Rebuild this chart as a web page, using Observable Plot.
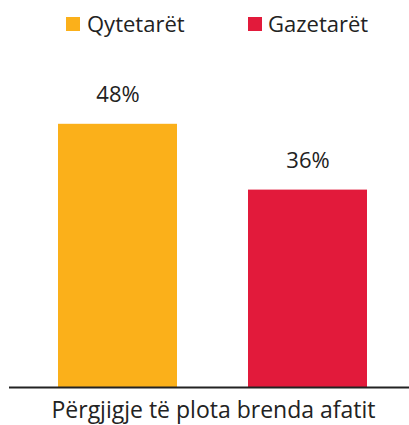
<!DOCTYPE html>
<html>
<head>
<meta charset="utf-8">
<script src="https://cdn.jsdelivr.net/npm/d3@7"></script>
<script src="https://cdn.jsdelivr.net/npm/@observablehq/plot@0.6"></script>
<style>
  html, body { margin: 0; padding: 0; background: #fff; }
  body { width: 409px; height: 425px; overflow: hidden; font-family: "Open Sans", sans-serif; color: #222; }
  #legend { position: relative; height: 48px; }
  .item { position: absolute; top: 12px; font-size: 22px; line-height: 22px; white-space: nowrap; }
  .sw { position: absolute; top: 17px; width: 14px; height: 14px; }
  #chart svg { display: block; }
  #caption { text-align: center; font-size: 23px; line-height: 23px; margin-top: 8px; padding-left: 18px; white-space: nowrap; }
</style>
</head>
<body>
<div id="legend"></div>
<div id="chart"></div>
<div id="caption"></div>
<script>
const categories = ["Qytetarët", "Gazetarët"];
const values = [48, 36];
const valueLabels = ["48%", "36%"];
const colors = ["#FBB01A", "#E21A3B"];
const axisLabel = "Përgjigje të plota brenda afatit";

const data = categories.map((c, i) => ({cat: c, value: values[i], label: valueLabels[i]}));

// legend
const legend = document.getElementById("legend");
const legendPos = [[66, 87], [248, 268]];
categories.forEach((c, i) => {
  const sw = document.createElement("div");
  sw.className = "sw";
  sw.style.left = legendPos[i][0] + "px";
  sw.style.background = colors[i];
  legend.appendChild(sw);
  const t = document.createElement("div");
  t.className = "item";
  t.style.left = legendPos[i][1] + "px";
  t.textContent = c;
  legend.appendChild(t);
});

const chart = Plot.plot({
  width: 409,
  height: 342,
  marginLeft: 9,
  marginRight: 0,
  marginTop: 10,
  marginBottom: 3,
  style: {fontFamily: "Open Sans, sans-serif", background: "white"},
  x: {domain: categories, paddingInner: 0.374, paddingOuter: 0.2395, align: 0.538, axis: null},
  y: {domain: [0, 60], axis: null},
  color: {domain: categories, range: colors},
  marks: [
    Plot.barY(data, {x: "cat", y: "value", fill: "cat"}),
    Plot.text(data, {x: "cat", y: "value", text: "label", lineAnchor: "bottom", dy: -22, fontSize: 22, fill: "#222"}),
    Plot.ruleY([0], {stroke: "#222", strokeWidth: 2})
  ]
});
document.getElementById("chart").appendChild(chart);
document.getElementById("caption").textContent = axisLabel;
</script>
</body>
</html>
